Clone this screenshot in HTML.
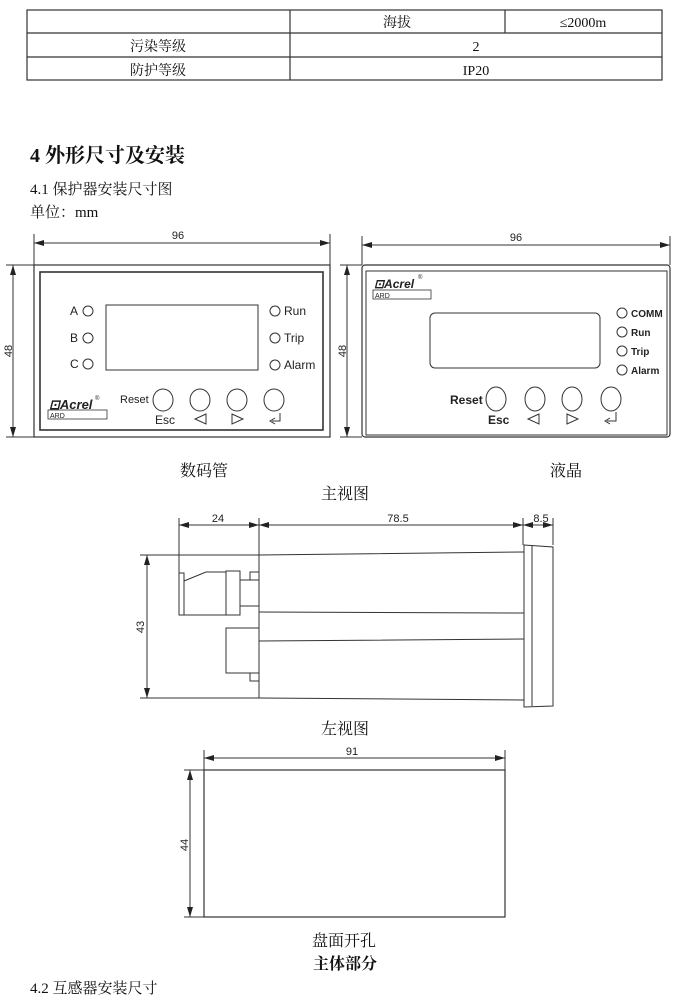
<!DOCTYPE html>
<html><head><meta charset="utf-8"><style>
body{margin:0;background:#fff;width:678px;height:1000px;overflow:hidden;position:relative}
svg{position:absolute;left:0;top:0}
.t{font-family:"Liberation Serif","Noto Serif CJK SC",serif;fill:#111}
.s{font-family:"Liberation Sans",sans-serif;fill:#222}
</style></head><body>
<svg width="678" height="1000" viewBox="0 0 678 1000" xmlns="http://www.w3.org/2000/svg">
<defs>
<marker id="a" markerWidth="10" markerHeight="6" refX="10" refY="3" orient="auto-start-reverse" markerUnits="userSpaceOnUse"><path d="M0,0L10,3L0,6z" fill="#222"/></marker>
</defs>
<g stroke="#333" stroke-width="1.2" fill="none">
<rect x="27" y="10" width="635" height="70"/>
<line x1="27" y1="33" x2="662" y2="33"/><line x1="27" y1="57" x2="662" y2="57"/>
<line x1="290" y1="10" x2="290" y2="80"/><line x1="505" y1="10" x2="505" y2="33"/>
</g>
<g class="t" font-size="14" text-anchor="middle">
<text x="397" y="27">海拔</text><text x="583" y="27">≤2000m</text>
<text x="158" y="51">污染等级</text><text x="476" y="51">2</text>
<text x="158" y="75">防护等级</text><text x="476" y="75">IP20</text>
</g>
<text class="t" x="30" y="162" font-size="20" font-weight="bold">4 外形尺寸及安装</text>
<text class="t" x="30" y="194" font-size="15">4.1  保护器安装尺寸图</text>
<text class="t" x="30" y="217" font-size="15">单位：mm</text>

<g stroke="#333" fill="none" stroke-width="1">
<line x1="34" y1="243" x2="330" y2="243" marker-start="url(#a)" marker-end="url(#a)"/>
<line x1="34" y1="234" x2="34" y2="265"/><line x1="330" y1="234" x2="330" y2="265"/>
<line x1="13" y1="265" x2="13" y2="437" marker-start="url(#a)" marker-end="url(#a)"/>
<line x1="6" y1="265" x2="34" y2="265"/><line x1="6" y1="437" x2="34" y2="437"/>
<rect x="34" y="265" width="296" height="172" stroke-width="1.2"/>
<rect x="40" y="272" width="283" height="158" stroke-width="1.6"/>
<rect x="106" y="305" width="152" height="65"/>
<circle cx="88" cy="311" r="5"/><circle cx="88" cy="338" r="5"/><circle cx="88" cy="364" r="5"/>
<circle cx="275" cy="311" r="5"/><circle cx="275" cy="338" r="5"/><circle cx="275" cy="365" r="5"/>
<ellipse cx="163" cy="400" rx="10" ry="11"/><ellipse cx="200" cy="400" rx="10" ry="11"/>
<ellipse cx="237" cy="400" rx="10" ry="11"/><ellipse cx="274" cy="400" rx="10" ry="11"/>
<rect x="48" y="410" width="59" height="9" stroke-width=".8"/>
<path d="M206,414L195,419L206,424z"/><path d="M232,414L243,419L232,424z"/>
<path d="M280,413V421H272M275,418L270,421L275,424" />
</g>
<g class="s" font-size="12">
<text x="178" y="239" text-anchor="middle" font-size="11">96</text>
<text transform="translate(12,351) rotate(-90)" text-anchor="middle" font-size="11">48</text>
<text x="70" y="315">A</text><text x="70" y="342">B</text><text x="70" y="368">C</text>
<text x="284" y="315">Run</text><text x="284" y="342">Trip</text><text x="284" y="369">Alarm</text>
<text x="120" y="403" font-size="11">Reset</text><text x="155" y="424">Esc</text>
<text x="49" y="409" font-size="13" font-weight="bold" font-style="italic">⊡Acrel</text><text x="95" y="400" font-size="6">®</text>
<text x="50" y="418" font-size="7">ARD</text>
</g>

<g stroke="#333" fill="none" stroke-width="1">
<line x1="362" y1="245" x2="670" y2="245" marker-start="url(#a)" marker-end="url(#a)"/>
<line x1="362" y1="236" x2="362" y2="265"/><line x1="670" y1="236" x2="670" y2="265"/>
<line x1="347" y1="265" x2="347" y2="437" marker-start="url(#a)" marker-end="url(#a)"/>
<line x1="340" y1="265" x2="362" y2="265"/><line x1="340" y1="437" x2="362" y2="437"/>
<rect x="362" y="265" width="308" height="172" rx="3" stroke-width="1.2"/>
<rect x="366" y="271" width="301" height="164" stroke-width="1"/>
<rect x="430" y="313" width="170" height="55" rx="5"/>
<circle cx="622" cy="313" r="5"/><circle cx="622" cy="332" r="5"/><circle cx="622" cy="351" r="5"/><circle cx="622" cy="370" r="5"/>
<ellipse cx="496" cy="399" rx="10" ry="12"/><ellipse cx="535" cy="399" rx="10" ry="12"/>
<ellipse cx="572" cy="399" rx="10" ry="12"/><ellipse cx="611" cy="399" rx="10" ry="12"/>
<rect x="373" y="290" width="58" height="9" stroke-width=".8"/>
<path d="M539,414L528,419L539,424z"/><path d="M567,414L578,419L567,424z"/>
<path d="M616,412V421H607M610,418L605,421L610,424"/>
</g>
<g class="s" font-size="11">
<text x="516" y="241" text-anchor="middle">96</text>
<text transform="translate(346,351) rotate(-90)" text-anchor="middle">48</text>
<g font-weight="bold" font-size="10"><text x="631" y="317">COMM</text><text x="631" y="336">Run</text><text x="631" y="355">Trip</text><text x="631" y="374">Alarm</text></g>
<text x="450" y="404" font-weight="bold" font-size="12">Reset</text><text x="488" y="424" font-weight="bold" font-size="12">Esc</text>
<text x="374" y="288" font-size="12" font-weight="bold" font-style="italic">⊡Acrel</text><text x="418" y="279" font-size="6">®</text>
<text x="375" y="298" font-size="7">ARD</text>
</g>
<g class="t" font-size="16" text-anchor="middle">
<text x="204" y="476">数码管</text><text x="566" y="476">液晶</text>
<text x="345" y="499">主视图</text>
<text x="345" y="734">左视图</text>
<text x="344" y="946">盘面开孔</text>
<text x="345" y="969" font-weight="bold">主体部分</text>
</g>

<g stroke="#333" fill="none" stroke-width="1">
<line x1="179" y1="525" x2="259" y2="525" marker-start="url(#a)" marker-end="url(#a)"/>
<line x1="259" y1="525" x2="523" y2="525" marker-start="url(#a)" marker-end="url(#a)"/>
<line x1="523" y1="525" x2="553" y2="525" marker-start="url(#a)" marker-end="url(#a)"/>
<line x1="179" y1="518" x2="179" y2="573"/><line x1="259" y1="518" x2="259" y2="555"/>
<line x1="523" y1="518" x2="523" y2="545"/><line x1="553" y1="518" x2="553" y2="545"/>
<line x1="147" y1="555" x2="147" y2="698" marker-start="url(#a)" marker-end="url(#a)"/>
<line x1="140" y1="555" x2="259" y2="555"/><line x1="140" y1="698" x2="259" y2="698"/>
<path d="M259,555L524,552M259,612L524,613M259,641L524,639M259,698L524,700"/>
<line x1="259" y1="555" x2="259" y2="698"/>
<path d="M524,545L553,547L553,706L524,707z"/><line x1="532" y1="546" x2="532" y2="706"/>
<rect x="179" y="573" width="5" height="42"/>
<path d="M184,581L206,572H226V615H184"/>
<rect x="226" y="571" width="14" height="44"/>
<path d="M240,580H259M240,606H259"/>
<rect x="250" y="572" width="9" height="8"/>
<rect x="226" y="628" width="33" height="45"/>
<rect x="250" y="673" width="9" height="8"/>
</g>
<g class="s" font-size="11" text-anchor="middle">
<text x="218" y="522">24</text><text x="398" y="522">78.5</text><text x="541" y="522">8.5</text>
<text transform="translate(144,627) rotate(-90)">43</text>
</g>

<g stroke="#333" fill="none" stroke-width="1">
<line x1="204" y1="758" x2="505" y2="758" marker-start="url(#a)" marker-end="url(#a)"/>
<line x1="204" y1="750" x2="204" y2="770"/><line x1="505" y1="750" x2="505" y2="770"/>
<line x1="190" y1="770" x2="190" y2="917" marker-start="url(#a)" marker-end="url(#a)"/>
<line x1="184" y1="770" x2="204" y2="770"/><line x1="184" y1="917" x2="204" y2="917"/>
<rect x="204" y="770" width="301" height="147" stroke-width="1.2"/>
</g>
<g class="s" font-size="11" text-anchor="middle">
<text x="352" y="755">91</text>
<text transform="translate(188,845) rotate(-90)">44</text>
</g>
<text class="t" x="30" y="993" font-size="15">4.2  互感器安装尺寸</text>
</svg>
</body></html>
